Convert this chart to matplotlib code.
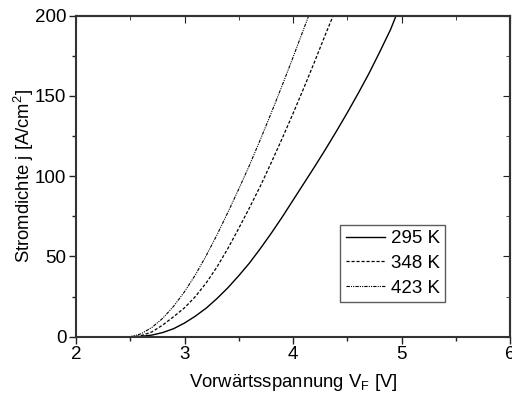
import matplotlib
matplotlib.use("Agg")
import matplotlib.pyplot as plt
from matplotlib.ticker import MultipleLocator

plt.rcParams["font.family"] = ["Liberation Sans", "DejaVu Sans"]
plt.rcParams["mathtext.fontset"] = "custom"
plt.rcParams["mathtext.rm"] = "Liberation Sans"
plt.rcParams["mathtext.it"] = "Liberation Sans"

# forward voltage [V] -> current density [A/cm^2]
v_295 = [2.0, 2.5, 2.6, 2.7, 2.8, 2.9, 3.0, 3.1, 3.2, 3.3, 3.4, 3.5, 3.6, 3.7, 3.8, 3.9,
         4.0, 4.1, 4.2, 4.3, 4.4, 4.5, 4.6, 4.7, 4.8, 4.9, 4.95]
j_295 = [0, 0, 0.2, 1.0, 2.6, 5.0, 8.5, 12.8, 17.8, 23.8, 30.5, 38, 46, 55, 64.5, 74.5,
         85, 95.5, 106, 116.8, 128, 139.5, 151.5, 164, 177.5, 191.5, 200]

v_348 = [2.0, 2.5, 2.55, 2.6, 2.7, 2.8, 2.9, 3.0, 3.1, 3.2, 3.3, 3.4, 3.5, 3.6, 3.7,
         3.8, 3.9, 4.0, 4.1, 4.2, 4.3, 4.37]
j_348 = [0, 0, 0.1, 0.6, 3.0, 7.3, 12.5, 18, 25, 33.5, 43.5, 55, 67.5, 80.5, 94,
         108.5, 123.5, 139, 155, 171.5, 188.5, 200]

v_423 = [2.0, 2.5, 2.6, 2.7, 2.8, 2.9, 3.0, 3.1, 3.2, 3.3, 3.4, 3.5, 3.6, 3.7, 3.8,
         3.9, 4.0, 4.1, 4.145]
j_423 = [0, 0, 1.8, 5.8, 11.5, 19, 28, 38.5, 50.5, 63.5, 77.5, 92, 107, 123, 139.5,
         156.5, 174, 192, 200]

labels = ["295 K", "348 K", "423 K"]

fig = plt.figure(figsize=(5.12, 4.01), dpi=100)
ax = fig.add_axes([76 / 512, 64.3 / 401, 434 / 512, 321 / 401])

ax.plot(v_295, j_295, color="black", lw=1.0, ls="-", label=labels[0])
ax.plot(v_348, j_348, color="black", lw=0.9, ls=(0, (2.5, 1.5)), label=labels[1])
ax.plot(v_423, j_423, color="black", lw=0.8, ls=(0, (3, 1, 1, 1, 1, 1)), label=labels[2])

ax.set_xlim(2, 6)
ax.set_ylim(0, 200)
ax.xaxis.set_major_locator(MultipleLocator(1))
ax.xaxis.set_minor_locator(MultipleLocator(0.5))
ax.yaxis.set_major_locator(MultipleLocator(50))
ax.yaxis.set_minor_locator(MultipleLocator(25))
ax.tick_params(which="both", direction="out", labelsize=13.5, width=1, color="#222222")
ax.tick_params(which="major", length=5)
ax.tick_params(which="minor", length=3)
ax.tick_params(axis="x", pad=1.5)
ax.tick_params(axis="y", pad=2)

for side in ("top", "right"):
    sec = ax.secondary_xaxis("top") if side == "top" else ax.secondary_yaxis("right")
    axis = sec.xaxis if side == "top" else sec.yaxis
    axis.set_major_locator(MultipleLocator(1 if side == "top" else 50))
    axis.set_minor_locator(MultipleLocator(0.5 if side == "top" else 25))
    sec.tick_params(which="both", direction="in", labelleft=False, labelright=False,
                    labeltop=False, labelbottom=False, color="#222222")
    sec.tick_params(which="major", length=5)
    sec.tick_params(which="minor", length=3)
    sec.spines[side].set_linewidth(1.5)
    sec.spines[side].set_color("#333333")

for s in ax.spines.values():
    s.set_linewidth(1.5)
    s.set_color("#333333")

ax.set_xlabel("Vorwärtsspannung V$_\\mathregular{F}$ [V]", fontsize=13.3, labelpad=7)
ax.set_ylabel("Stromdichte j [A/cm$^\\mathregular{2}$]", fontsize=13.3, labelpad=-1)

leg = ax.legend(loc="upper right", bbox_to_anchor=(0.851, 0.349), fontsize=13.5,
                frameon=True, fancybox=False, edgecolor="#333333", handlelength=2.1,
                borderpad=0.3, labelspacing=0.4, handletextpad=0.3, borderaxespad=0)
leg.get_frame().set_linewidth(1.0)

fig.savefig("out.png", dpi=100)
